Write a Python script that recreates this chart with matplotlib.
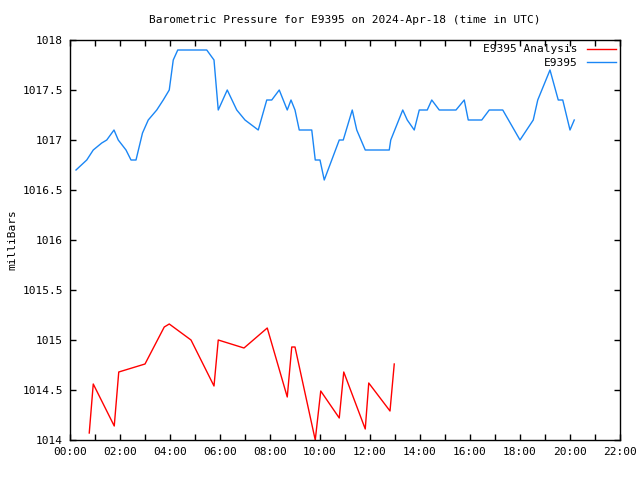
import matplotlib
matplotlib.use("Agg")
import matplotlib.pyplot as plt
from matplotlib.ticker import MultipleLocator, FuncFormatter

plt.rcParams['font.family'] = ['DejaVu Sans Mono']
plt.rcParams['font.size'] = 8

# hours since 00:00 UTC
obs_hours = [0.24, 0.67, 0.93, 1.27, 1.47, 1.76, 1.93, 2.24, 2.44, 2.64, 2.9, 3.13,
             3.47, 3.73, 3.97, 4.13, 4.31, 5.47, 5.76, 5.93, 6.29, 6.67, 7.0, 7.53,
             7.87, 8.07, 8.37, 8.69, 8.84, 9.0, 9.17, 9.67, 9.81, 10.0, 10.17, 10.77,
             10.93, 11.29, 11.47, 11.81, 12.77, 12.83, 13.31, 13.49, 13.77, 13.97,
             14.29, 14.47, 14.77, 15.44, 15.77, 15.93, 16.47, 16.77, 17.31, 18.0,
             18.53, 18.71, 19.2, 19.53, 19.71, 20.0, 20.17]
obs_mb = [1016.7, 1016.8, 1016.9, 1016.97, 1017.0, 1017.1, 1017.0, 1016.9, 1016.8,
          1016.8, 1017.07, 1017.2, 1017.3, 1017.4, 1017.5, 1017.8, 1017.9, 1017.9,
          1017.8, 1017.3, 1017.5, 1017.3, 1017.2, 1017.1, 1017.4, 1017.4, 1017.5,
          1017.3, 1017.4, 1017.3, 1017.1, 1017.1, 1016.8, 1016.8, 1016.6, 1017.0,
          1017.0, 1017.3, 1017.1, 1016.9, 1016.9, 1017.0, 1017.3, 1017.2, 1017.1,
          1017.3, 1017.3, 1017.4, 1017.3, 1017.3, 1017.4, 1017.2, 1017.2, 1017.3,
          1017.3, 1017.0, 1017.2, 1017.4, 1017.7, 1017.4, 1017.4, 1017.1, 1017.2]

ana_hours = [0.77, 0.93, 1.77, 1.95, 3.0, 3.77, 3.97, 4.84, 5.76, 5.93, 6.96, 7.89,
             8.69, 8.87, 9.0, 9.81, 10.03, 10.77, 10.95, 11.81, 11.95, 12.8, 12.97]
ana_mb = [1014.07, 1014.56, 1014.14, 1014.68, 1014.76, 1015.13, 1015.16, 1015.0,
          1014.54, 1015.0, 1014.92, 1015.12, 1014.43, 1014.93, 1014.93, 1014.0,
          1014.49, 1014.22, 1014.68, 1014.11, 1014.57, 1014.29, 1014.76]

fig = plt.figure(figsize=(6.4, 4.8), dpi=100)
ax = fig.add_axes([70/640, 40/480, 550/640, 400/480])

ax.plot(ana_hours, ana_mb, color='#ff0000', lw=1, label='E9395 Analysis')
ax.plot(obs_hours, obs_mb, color='#1a86f5', lw=1, label='E9395')

ax.set_xlim(0, 22)
ax.set_ylim(1014, 1018)
ax.xaxis.set_major_locator(MultipleLocator(1))
ax.xaxis.set_major_formatter(FuncFormatter(
    lambda v, p: "%02d:00" % int(round(v)) if int(round(v)) % 2 == 0 else ""))
ax.yaxis.set_major_locator(MultipleLocator(0.5))
ax.yaxis.set_major_formatter(FuncFormatter(lambda v, p: ("%g" % v)))
ax.tick_params(direction='in', length=4, width=1, top=True, right=True,
               labelsize=8, pad=5)
for s in ax.spines.values():
    s.set_linewidth(1)

ax.set_ylabel('milliBars', fontsize=8, labelpad=4)
ax.set_title('Barometric Pressure for E9395 on 2024-Apr-18 (time in UTC)',
             fontsize=8, pad=12)

ax.legend(loc='upper right', markerfirst=False, frameon=False, fontsize=8,
          handlelength=2.6, handletextpad=0.8, labelspacing=0.35,
          borderaxespad=0.0)

fig.savefig('out.png', dpi=100)
